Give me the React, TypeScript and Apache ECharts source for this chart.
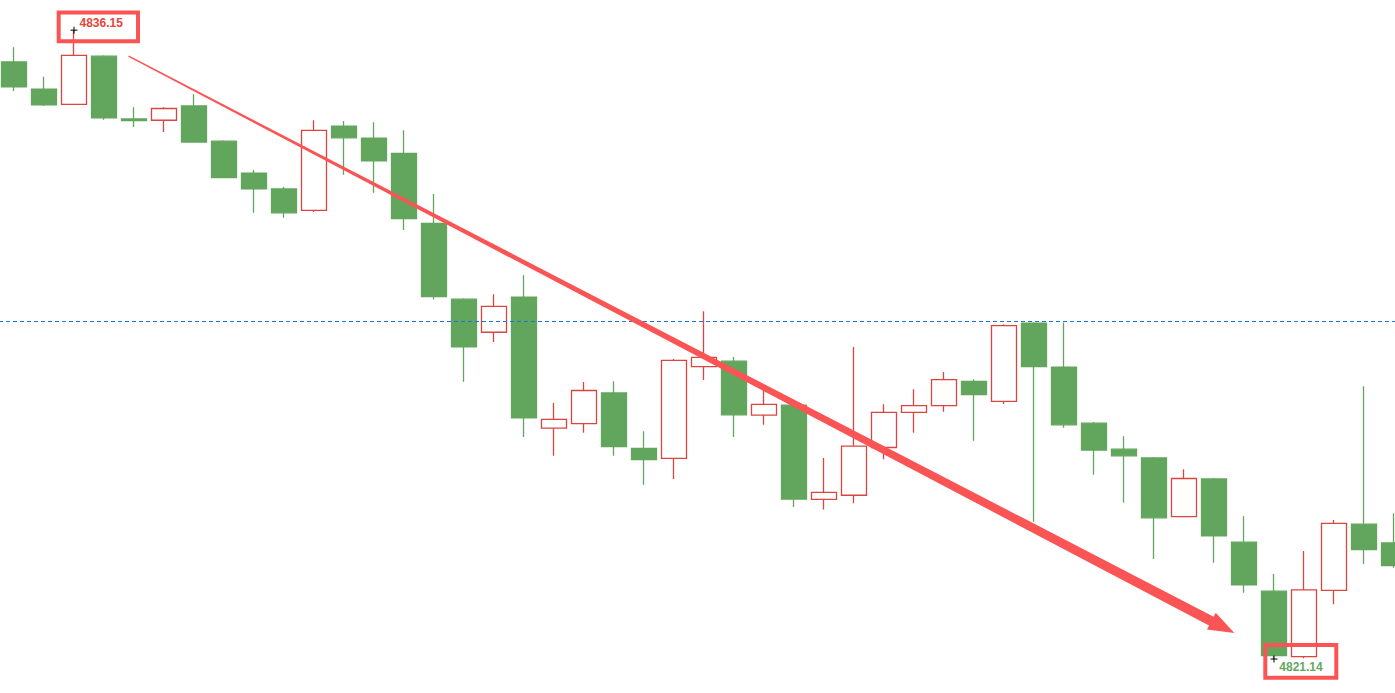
import React, { useEffect, useRef } from "react";
import * as echarts from "echarts";

// [open, close, low, high]
const candles: number[][] = [
  [4835.39, 4834.80, 4834.70, 4835.74],
  [4834.74, 4834.37, 4834.34, 4835.04],
  [4834.38, 4835.55, 4834.37, 4836.15],
  [4835.53, 4834.06, 4834.01, 4835.55],
  [4834.03, 4833.99, 4833.84, 4834.31],
  [4834.00, 4834.28, 4833.72, 4834.31],
  [4834.34, 4833.48, 4833.47, 4834.62],
  [4833.50, 4832.63, 4832.62, 4833.52],
  [4832.74, 4832.36, 4831.79, 4832.81],
  [4832.36, 4831.79, 4831.67, 4832.41],
  [4831.85, 4833.76, 4831.81, 4834.00],
  [4833.86, 4833.58, 4832.70, 4833.98],
  [4833.57, 4833.03, 4832.27, 4833.95],
  [4833.21, 4831.65, 4831.38, 4833.76],
  [4831.54, 4829.79, 4829.72, 4832.24],
  [4829.73, 4828.59, 4827.76, 4829.75],
  [4828.94, 4829.56, 4828.71, 4829.85],
  [4829.78, 4826.90, 4826.44, 4830.30],
  [4826.65, 4826.86, 4825.99, 4827.25],
  [4826.76, 4827.55, 4826.54, 4827.75],
  [4827.49, 4826.21, 4825.99, 4827.77],
  [4826.17, 4825.90, 4825.30, 4826.58],
  [4825.93, 4828.27, 4825.44, 4828.30],
  [4828.12, 4828.34, 4827.80, 4829.44],
  [4828.25, 4826.97, 4826.44, 4828.35],
  [4826.96, 4827.22, 4826.73, 4827.58],
  [4827.20, 4824.96, 4824.77, 4827.21],
  [4824.95, 4825.12, 4824.71, 4825.94],
  [4825.05, 4826.22, 4824.86, 4828.59],
  [4826.19, 4827.03, 4825.91, 4827.22],
  [4827.03, 4827.19, 4826.54, 4827.58],
  [4827.19, 4827.81, 4827.04, 4827.99],
  [4827.77, 4827.45, 4826.35, 4827.82],
  [4827.29, 4829.10, 4827.23, 4829.13],
  [4829.16, 4828.12, 4824.42, 4829.18],
  [4828.11, 4826.73, 4826.66, 4829.17],
  [4826.77, 4826.13, 4825.54, 4826.80],
  [4826.15, 4825.99, 4824.87, 4826.46],
  [4825.94, 4824.51, 4823.53, 4825.96],
  [4824.54, 4825.45, 4824.53, 4825.67],
  [4825.44, 4824.08, 4823.44, 4825.46],
  [4823.93, 4822.91, 4822.72, 4824.55],
  [4822.76, 4821.22, 4821.14, 4823.17],
  [4821.20, 4822.79, 4821.16, 4823.72],
  [4822.78, 4824.38, 4822.45, 4824.46],
  [4824.36, 4823.75, 4823.41, 4827.65],
  [4823.91, 4823.37, 4823.32, 4824.62],
];

const categories: string[] = candles.map((_, i) => String(i + 1));

const referenceLevel = 4829.21;
const highIndex = 2;
const highValue = 4836.15;
const lowIndex = 42;
const lowValue = 4821.14;
const highLabel = "4836.15";
const lowLabel = "4821.14";

// trend arrow anchors in data space: [fractional category index, price]
const arrowFrom: number[] = [3.82, 4835.53];
const arrowTo: number[] = [40.68, 4821.76];

const GREEN = "#62a55c";
const RED = "#d9453f";
const ARROW = "#fb5454";

export default function App() {
  const ref = useRef<HTMLDivElement>(null);

  useEffect(() => {
    if (!ref.current) return;
    const chart = echarts.init(ref.current, undefined, { renderer: "svg" });
    chart.setOption({
      animation: false,
      backgroundColor: "#ffffff",
      grid: { left: 0, top: 0, right: 0, bottom: 0, containLabel: false },
      xAxis: {
        type: "category",
        data: categories,
        boundaryGap: true,
        show: false,
      },
      yAxis: {
        type: "value",
        min: 4820.33,
        max: 4836.87,
        show: false,
        splitLine: { show: false },
      },
      series: [
        {
          type: "candlestick",
          data: candles,
          barWidth: 25,
          itemStyle: {
            color: "#ffffff",
            color0: GREEN,
            borderColor: RED,
            borderColor0: GREEN,
            borderWidth: 1.3,
          },
          markLine: {
            silent: true,
            symbol: "none",
            label: { show: false },
            lineStyle: { color: "#1a73e0", type: [4, 3], width: 1 },
            data: [{ yAxis: referenceLevel }],
          },
        },
      ],
    });

    // category axis snaps to integer indices, so interpolate fractional ones
    const px = (p: number[]) => {
      const i0 = Math.floor(p[0]);
      const f = p[0] - i0;
      const a = chart.convertToPixel({ gridIndex: 0 }, [i0, p[1]]) as number[];
      const b = chart.convertToPixel({ gridIndex: 0 }, [i0 + 1, p[1]]) as number[];
      return [a[0] + (b[0] - a[0]) * f, a[1]];
    };
    const S = px(arrowFrom);
    const E = px(arrowTo);
    const dx = E[0] - S[0];
    const dy = E[1] - S[1];
    const len = Math.hypot(dx, dy);
    const ux = dx / len, uy = dy / len;
    const nx = -uy, ny = ux;
    const headLen = 26, headHalf = 9.5;
    const w0 = 0.75, w1 = 5;
    const B = [E[0] - ux * headLen, E[1] - uy * headLen];
    const arrowPts = [
      [S[0] + nx * w0, S[1] + ny * w0],
      [B[0] + nx * w1, B[1] + ny * w1],
      [B[0] + nx * headHalf, B[1] + ny * headHalf],
      [E[0], E[1]],
      [B[0] - nx * headHalf, B[1] - ny * headHalf],
      [B[0] - nx * w1, B[1] - ny * w1],
      [S[0] - nx * w0, S[1] - ny * w0],
    ];

    const H = px([highIndex, highValue]);
    const L = px([lowIndex, lowValue]);

    const cross = (c: number[]) => [
      { type: "line", shape: { x1: c[0] - 3.5, y1: c[1], x2: c[0] + 3.5, y2: c[1] }, style: { stroke: "#000", lineWidth: 1 }, z: 20 },
      { type: "line", shape: { x1: c[0], y1: c[1] - 3.5, x2: c[0], y2: c[1] + 3.5 }, style: { stroke: "#000", lineWidth: 1 }, z: 20 },
    ];

    chart.setOption({
      graphic: [
        { type: "polygon", shape: { points: arrowPts }, style: { fill: ARROW }, z: 10 },
        { type: "rect", shape: { x: H[0] - 15.3, y: H[1] - 17.7, width: 79.3, height: 28.7 }, style: { fill: "rgba(255,255,255,0)", stroke: ARROW, lineWidth: 4 }, z: 15 },
        {
          type: "text",
          x: H[0] + 27.2,
          y: H[1] - 7.2,
          style: { text: highLabel, fill: "#e6453a", font: "bold 12px 'Liberation Sans', Arial, sans-serif", align: "center", verticalAlign: "middle" },
          z: 16,
        },
        { type: "rect", shape: { x: L[0] - 8.7, y: L[1] - 14, width: 71, height: 32.7 }, style: { fill: "rgba(255,255,255,0)", stroke: ARROW, lineWidth: 4 }, z: 15 },
        {
          type: "text",
          x: L[0] + 27,
          y: L[1] + 7.5,
          style: { text: lowLabel, fill: "#65a85e", font: "bold 12px 'Liberation Sans', Arial, sans-serif", align: "center", verticalAlign: "middle" },
          z: 16,
        },
        ...cross(H),
        ...cross(L),
      ],
    });

    return () => chart.dispose();
  }, []);

  return (
    <div style={{ position: "fixed", left: 0, top: 0, width: 1395, height: 693, overflow: "hidden", background: "#fff" }}>
      <div
        ref={ref}
        style={{ position: "absolute", left: -1.5, top: 0, width: 1410, height: 693 }}
      />
    </div>
  );
}
